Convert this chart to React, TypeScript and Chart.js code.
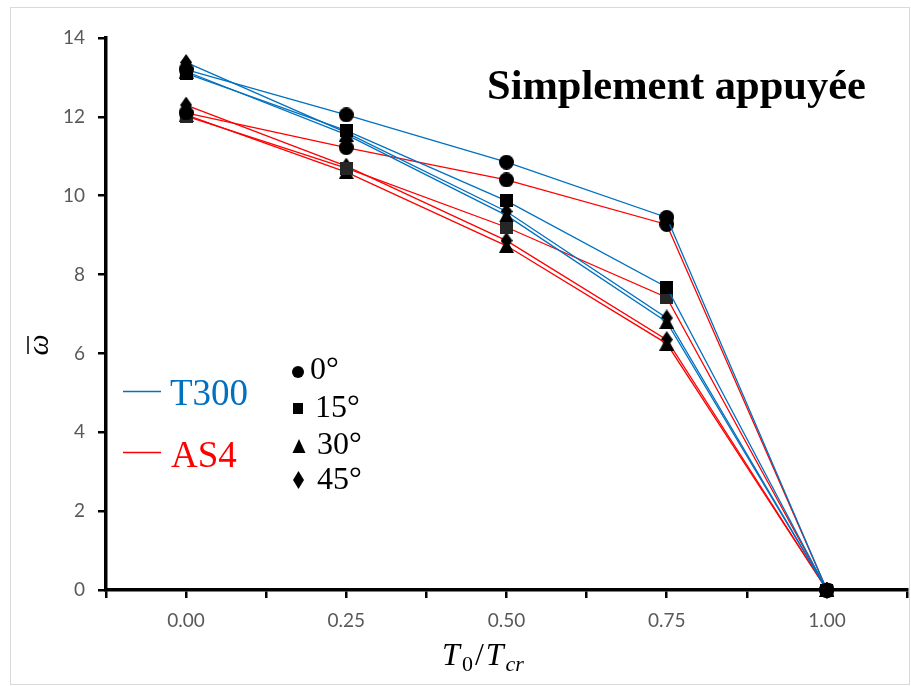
import React, { useEffect, useRef } from "react";
import { Chart, registerables } from "chart.js";

Chart.register(...registerables);

const xValues = [0, 0.25, 0.5, 0.75, 1.0];
const angles = ["0°", "15°", "30°", "45°"];

const t300_0 = [13.2, 12.05, 10.85, 9.45, 0];
const t300_15 = [13.1, 11.65, 9.87, 7.68, 0];
const t300_30 = [13.15, 11.55, 9.5, 6.8, 0];
const t300_45 = [13.38, 11.6, 9.6, 6.9, 0];

const as4_0 = [12.1, 11.22, 10.4, 9.27, 0];
const as4_15 = [12.02, 10.7, 9.2, 7.42, 0];
const as4_30 = [12.05, 10.6, 8.73, 6.25, 0];
const as4_45 = [12.3, 10.75, 8.86, 6.35, 0];

const yTicks = [0, 2, 4, 6, 8, 10, 12, 14];

const BLUE = "#0070C0";
const RED = "#FF0000";

function makeMarker(kind: string, color: string): HTMLCanvasElement {
  const c = document.createElement("canvas");
  let w = 15, h = 15;
  if (kind === "square") { w = 13; h = 13; }
  if (kind === "triangle") { w = 15; h = 14; }
  if (kind === "diamond") { w = 12; h = 17; }
  c.width = w; c.height = h;
  const ctx = c.getContext("2d")!;
  ctx.fillStyle = color;
  ctx.beginPath();
  if (kind === "circle") {
    ctx.arc(w / 2, h / 2, w / 2, 0, Math.PI * 2);
  } else if (kind === "square") {
    ctx.rect(0, 0, w, h);
  } else if (kind === "triangle") {
    ctx.moveTo(w / 2, 0); ctx.lineTo(w, h); ctx.lineTo(0, h); ctx.closePath();
  } else {
    ctx.moveTo(w / 2, 0); ctx.lineTo(w, h / 2); ctx.lineTo(w / 2, h); ctx.lineTo(0, h / 2); ctx.closePath();
  }
  ctx.fill();
  return c;
}

export default function App() {
  const ref = useRef<HTMLCanvasElement | null>(null);

  useEffect(() => {
    if (!ref.current) return;
    const kinds = ["circle", "square", "triangle", "diamond"];
    const blueSeries = [t300_0, t300_15, t300_30, t300_45];
    const redSeries = [as4_0, as4_15, as4_30, as4_45];
    const mk = (vals: number[], color: string, label: string, kind: string, markerColor: string) => ({
      label,
      data: vals.map((y, i) => ({ x: xValues[i], y })),
      borderColor: color,
      backgroundColor: color,
      borderWidth: 1.3,
      pointStyle: makeMarker(kind, markerColor),
      pointRadius: 8,
      pointHoverRadius: 8,
      tension: 0,
      clip: false as any,
    });
    const datasets: any[] = [];
    blueSeries.forEach((s, i) => datasets.push(mk(s, BLUE, "T300 " + angles[i], kinds[i], "#000")));
    redSeries.forEach((s, i) => datasets.push(mk(s, RED, "AS4 " + angles[i], kinds[i], i === 1 ? "#262626" : "#000")));

    const overlay = {
      id: "overlay",
      beforeDraw(chart: any) {
        const ctx = chart.ctx;
        ctx.save();
        ctx.fillStyle = "#fff";
        ctx.fillRect(0, 0, chart.width, chart.height);
        ctx.strokeStyle = "#d9d9d9";
        ctx.lineWidth = 1;
        ctx.strokeRect(10.5, 7.5, 899, 677);
        ctx.restore();
      },
      afterDraw(chart: any) {
        const ctx = chart.ctx;
        ctx.save();
        // title
        ctx.fillStyle = "#000";
        ctx.font = 'bold 42.5px "Liberation Serif"';
        ctx.textBaseline = "alphabetic";
        ctx.textAlign = "left";
        ctx.fillText("Simplement appuyée", 487, 99);

        // material legend
        ctx.lineWidth = 1.5;
        ctx.strokeStyle = BLUE;
        ctx.beginPath(); ctx.moveTo(123, 391.5); ctx.lineTo(161, 391.5); ctx.stroke();
        ctx.strokeStyle = RED;
        ctx.beginPath(); ctx.moveTo(123, 452.5); ctx.lineTo(161, 452.5); ctx.stroke();
        ctx.font = '37px "Liberation Serif"';
        ctx.fillStyle = BLUE;
        ctx.fillText("T300", 170, 405);
        ctx.fillStyle = RED;
        ctx.fillText("AS4", 171, 467);

        // marker legend
        ctx.fillStyle = "#000";
        ctx.beginPath(); ctx.arc(298, 372, 6, 0, Math.PI * 2); ctx.fill();
        ctx.fillRect(293, 403, 10, 11);
        ctx.beginPath(); ctx.moveTo(299, 439); ctx.lineTo(305.5, 453); ctx.lineTo(292.5, 453); ctx.closePath(); ctx.fill();
        ctx.beginPath(); ctx.moveTo(298.5, 471); ctx.lineTo(304, 480); ctx.lineTo(298.5, 489); ctx.lineTo(293, 480); ctx.closePath(); ctx.fill();
        ctx.font = '32px "Liberation Serif"';
        ctx.fillText(angles[0], 310, 379);
        ctx.fillText(angles[1], 315, 417);
        ctx.fillText(angles[2], 317, 454);
        ctx.fillText(angles[3], 317, 489);

        // x axis title  T0/Tcr
        const big = 'italic 32px "Liberation Serif"';
        const sub = 'italic 22px "Liberation Serif"';
        const subUp = '22px "Liberation Serif"';
        const parts: [string, string, number][] = [
          ["T", big, 0], ["0", subUp, 6], ["/", '32px "Liberation Serif"', 0], ["T", big, 0], ["cr", sub, 6],
        ];
        let total = 0;
        parts.forEach(([t, f]) => { ctx.font = f; total += ctx.measureText(t).width + 2; });
        let x = 484 - total / 2;
        parts.forEach(([t, f, dy]) => {
          ctx.font = f;
          ctx.fillText(t, x, 665 + dy);
          x += ctx.measureText(t).width + 2;
        });

        // y axis title: omega bar, rotated
        ctx.translate(38, 345);
        ctx.rotate(-Math.PI / 2);
        ctx.font = 'italic 30px "Liberation Serif"';
        ctx.textAlign = "center";
        ctx.textBaseline = "middle";
        ctx.fillText("ω", 0, 2);
        ctx.lineWidth = 1.5;
        ctx.strokeStyle = "#000";
        ctx.beginPath(); ctx.moveTo(-9, -10); ctx.lineTo(9, -10); ctx.stroke();
        ctx.restore();
      },
    };

    const chart = new Chart(ref.current, {
      type: "line",
      data: { datasets },
      options: {
        animation: false,
        responsive: false,
        maintainAspectRatio: false,
        layout: { autoPadding: false, padding: { top: 38, right: 4, left: 0, bottom: 0 } },
        plugins: { legend: { display: false }, tooltip: { enabled: false }, title: { display: false } },
        scales: {
          x: {
            type: "linear",
            min: -0.125,
            max: 1.125,
            afterFit: (s: any) => { s.height = 96; s.paddingLeft = 0; s.paddingRight = 0; },
            afterBuildTicks: (s: any) => {
              const t = [];
              for (let k = -1; k <= 9; k++) t.push({ value: k * 0.125 });
              s.ticks = t;
            },
            ticks: {
              autoSkip: false,
              maxRotation: 0,
              padding: 11,
              color: "#595959",
              font: { family: "Lato", size: 19 },
              callback: (v: any) => {
                const n = Number(v);
                const found = xValues.find((xv) => Math.abs(xv - n) < 1e-6);
                return found === undefined ? "" : found.toFixed(2);
              },
            },
            grid: { drawOnChartArea: false, drawTicks: true, tickLength: 8, color: "#000", lineWidth: 2.5 },
            border: { display: true, color: "#000", width: 3.5 },
          },
          y: {
            min: 0,
            max: 14,
            afterFit: (s: any) => { s.width = 106; },
            afterBuildTicks: (s: any) => { s.ticks = yTicks.map((v) => ({ value: v })); },
            ticks: {
              padding: 13,
              color: "#595959",
              font: { family: "Lato", size: 19 },
            },
            grid: { drawOnChartArea: false, drawTicks: true, tickLength: 8, color: "#000", lineWidth: 2.5 },
            border: { display: true, color: "#000", width: 3.5 },
          },
        },
      },
      plugins: [overlay],
    });
    return () => chart.destroy();
  }, []);

  return (
    <div style={{ position: "fixed", left: 0, top: 0, width: 911, height: 686, background: "#fff" }}>
      <canvas ref={ref} width={911} height={686} style={{ width: 911, height: 686, display: "block" }} />
    </div>
  );
}
